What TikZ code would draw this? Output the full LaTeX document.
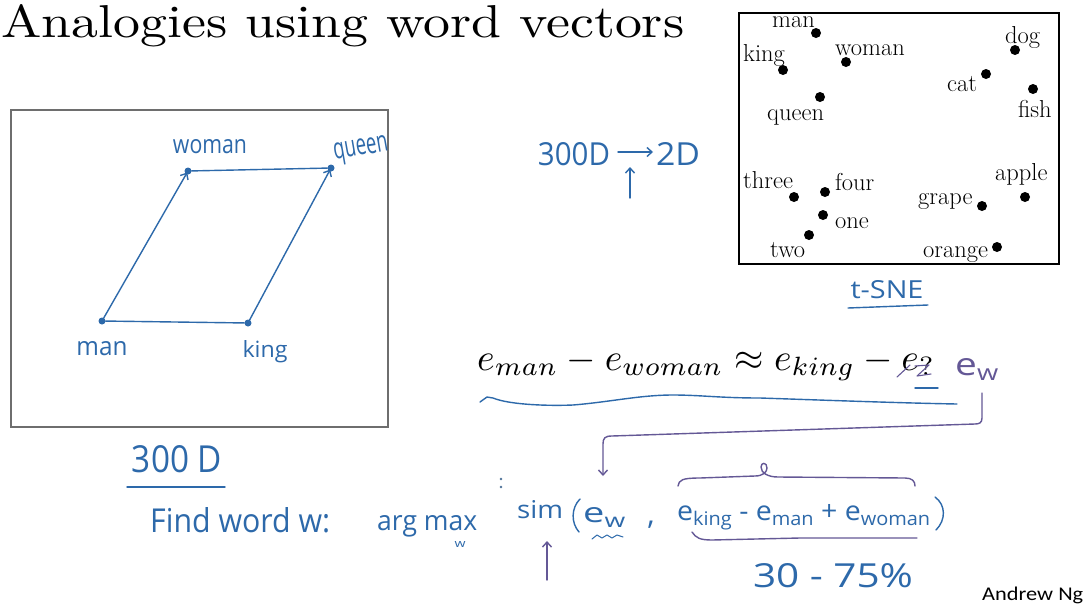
\documentclass[tikz,border=0pt]{standalone}
\usepackage{fontspec}
\usetikzlibrary{arrows.meta}
\newfontfamily\hand{Open Sans}
\newfontfamily\cali{Carlito}
\definecolor{hblue}{RGB}{45,105,170}
\definecolor{hpurp}{RGB}{100,88,150}
\definecolor{boxgray}{RGB}{110,110,110}
\newcommand{\hw}[3]{\resizebox{#1pt}{#2pt}{\hand #3}}
\newcommand{\hsub}[1]{\raisebox{-0.35ex}{\scriptsize #1}}
\tikzset{
  tsdot/.style={circle,fill=black,inner sep=0pt,minimum size=10pt},
  tslab/.style={anchor=base west,inner sep=0pt,font=\fontsize{24.5}{28}\selectfont},
  hdot/.style={circle,fill=hblue,inner sep=0pt,minimum size=7pt},
  hline/.style={draw=hblue,line width=1.4pt,line cap=round,line join=round},
  pline/.style={draw=hpurp,line width=1.4pt,line cap=round,line join=round},
  hnode/.style={inner sep=0pt,text=hblue},
  pnode/.style={inner sep=0pt,text=hpurp},
  harrow/.style={-{Straight Barb[length=5pt,width=9pt]}}
}
\begin{document}
\begin{tikzpicture}[x=1pt,y=-1pt]
\useasboundingbox (0,0) rectangle (1085,603);
\clip (0,0) rectangle (1085,603);
\fill[white] (0,0) rectangle (1085,603);

% title
\node[anchor=base west,inner sep=0pt] (title) at (1,37)
  {\resizebox{683pt}{33pt}{Analogies using word vectors}};

% left box with parallelogram
\node[draw=boxgray,line width=1.5pt,inner sep=0pt,minimum width=377pt,minimum height=317pt,anchor=north west] (lbox) at (10,109) {};
\node[hdot] (pman) at (102,321) {};
\node[hdot] (pking) at (248,323) {};
\node[hdot] (pwoman) at (188,171) {};
\node[hdot] (pqueen) at (331,168) {};
\draw[hline] (pman) -- (pking);
\draw[hline] (pwoman) -- (pqueen);
\draw[hline,harrow,shorten >=-2pt] (pman) -- (pwoman);
\draw[hline,harrow,shorten >=-2pt] (pking) -- (pqueen);
\node[hnode,anchor=base] (lwoman) at (210,153) {\hw{74}{14}{woman}};
\node[hnode,anchor=base,rotate=10] (lqueen) at (362,155) {\hw{55}{16}{queen}};
\node[hnode,anchor=base] (lman) at (102,355) {\hw{51}{14}{man}};
\node[hnode,anchor=base] (lking) at (265,357) {\hw{45}{17}{king}};

% 300D -> 2D
\node[hnode,anchor=base] (d300) at (574,165) {\hw{72}{23}{300D}};
\node[hnode,anchor=base] (d2) at (678,165) {\hw{44}{23}{2D}};
\coordinate (arA) at (618,152);
\coordinate (arB) at (653,152);
\draw[hline,harrow] (arA) -- (arB);
\coordinate (upA) at (630,198);
\coordinate (upB) at (630,167);
\draw[hline,harrow] (upA) -- (upB);

% t-SNE box
\node[draw=black,line width=2pt,inner sep=0pt,minimum width=320pt,minimum height=251pt,anchor=north west] (tbox) at (738,12) {};
\node[tsdot] (sman) at (816,33) {};
\node[tsdot] (sking) at (783,70) {};
\node[tsdot] (swoman) at (846,62) {};
\node[tsdot] (squeen) at (820,97) {};
\node[tsdot] (sdog) at (1015,50) {};
\node[tsdot] (scat) at (986,74) {};
\node[tsdot] (sfish) at (1033,89) {};
\node[tsdot] (sthree) at (794,197) {};
\node[tsdot] (sfour) at (825,192) {};
\node[tsdot] (sone) at (823,215) {};
\node[tsdot] (stwo) at (809,235) {};
\node[tsdot] (sgrape) at (982,206) {};
\node[tsdot] (sapple) at (1025,197) {};
\node[tsdot] (sorange) at (997,247) {};
\node[tslab] (tman) at (772,27) {man};
\node[tslab] (tking) at (743,61) {king};
\node[tslab] (twoman) at (835,55) {woman};
\node[tslab] (tqueen) at (767,120) {queen};
\node[tslab] (tdog) at (1005,43) {dog};
\node[tslab] (tcat) at (947,91) {cat};
\node[tslab] (tfish) at (1018,117) {fish};
\node[tslab] (tthree) at (743,188) {three};
\node[tslab] (tfour) at (835,190) {four};
\node[tslab] (tone) at (835,228) {one};
\node[tslab] (ttwo) at (770,257) {two};
\node[tslab] (tgrape) at (918,204) {grape};
\node[tslab] (tapple) at (995,180) {apple};
\node[tslab] (torange) at (923,257) {orange};

% t-SNE label
\node[hnode,anchor=base] (tsne) at (887,298) {\hw{73}{18}{t-SNE}};
\coordinate (tsuA) at (848,308);
\coordinate (tsuB) at (928,305);
\draw[hline] (tsuA) -- (tsuB);

% equation
\node[anchor=base west,inner sep=0pt] (eq) at (477,370)
  {\resizebox{458pt}{!}{$e_{man} - e_{woman} \approx e_{king} - e_{?}$}};
\draw[pline,line width=1.1pt] (897,377) -- (910,365);
\draw[pline,line width=1.1pt] (915,366) -- (929,365) -- (917,376) -- (931,374);
\draw[hline] (915,388) -- (938,388);
\node[pnode,anchor=base west] (ew2) at (955,375) {\hw{43}{17}{e\hsub{w}}};
\draw[hline] (480,402) -- (487,397) -- (493,398)
  .. controls (510,405) and (550,406) .. (573,405)
  .. controls (610,402) and (640,395) .. (673,395)
  .. controls (700,395) and (720,398) .. (760,398)
  .. controls (820,400) and (900,403) .. (957,404);

% bracket connector from e_w down to sim(e_w
\coordinate (brA) at (982,393);
\coordinate (brB) at (603,476);
\draw[pline,harrow] (brA) -- (982,418) .. controls (982,423) and (979,424) .. (975,424)
  -- (612,436) .. controls (605,436) and (603,438) .. (603,444) -- (brB);

% 300 D
\node[hnode,anchor=base] (d300b) at (177,472) {\hw{90}{27}{300 D}};
\coordinate (uA) at (127,487);
\coordinate (uB) at (225,487);
\draw[hline] (uA) -- (uB);

% Find word w: arg max sim(...)
\node[hnode,anchor=base west] (find) at (150,532) {\hw{180}{25}{Find word w:}};
\node[hnode,anchor=base west] (argmax) at (377,530) {\hw{100}{15}{arg max}};
\node[hnode,anchor=base] (wsub) at (460,547) {\hw{11}{6}{w}};
\fill[hblue!60!gray] (501,479) circle (1.3pt) (501,487) circle (1.3pt);
\node[hnode,anchor=base west] (sim) at (517,518) {\hw{46}{18}{sim}};
\draw[hline] (580,499) .. controls (571,508) and (571,523) .. (579,532);
\node[hnode,anchor=base west] (ew) at (583,522) {\hw{42}{15}{e\hsub{w}}};
\draw[hline,line width=1pt] (592,539) -- (597,535) -- (602,538) -- (607,535) -- (612,538) -- (617,535) -- (623,537);
\node[hnode,anchor=base,font=\hand\fontsize{30}{30}\selectfont] (comma) at (651,524) {,};
\node[hnode,anchor=base west] (expr) at (677,520) {\hw{253}{16}{e\hsub{king} - e\hsub{man} + e\hsub{woman}}};
\draw[hline] (935,497) .. controls (946,505) and (946,520) .. (936,530);
% overbrace and underbrace
\draw[pline] (678,486) .. controls (679,480) and (682,478) .. (700,478) -- (755,476)
  .. controls (763,476) and (767,472) .. (767,468)
  .. controls (767,462) and (761,462) .. (761,467)
  .. controls (761,473) and (768,477) .. (778,477)
  -- (905,478) .. controls (912,478) and (915,481) .. (915,486);
\draw[pline] (692,532) .. controls (696,538) and (700,540) .. (712,540) -- (800,538) -- (917,538);
% up arrow under sim
\coordinate (saA) at (547,580);
\coordinate (saB) at (547,541);
\draw[pline,harrow] (saA) -- (saB);
% percent
\node[hnode,anchor=base] (pct) at (833,587) {\hw{160}{24}{30 - 75\%}};

% author
\node[anchor=base west,inner sep=0pt] (author) at (982,600)
  {\resizebox{101pt}{13.5pt}{\cali Andrew Ng}};
\end{tikzpicture}
\end{document}
